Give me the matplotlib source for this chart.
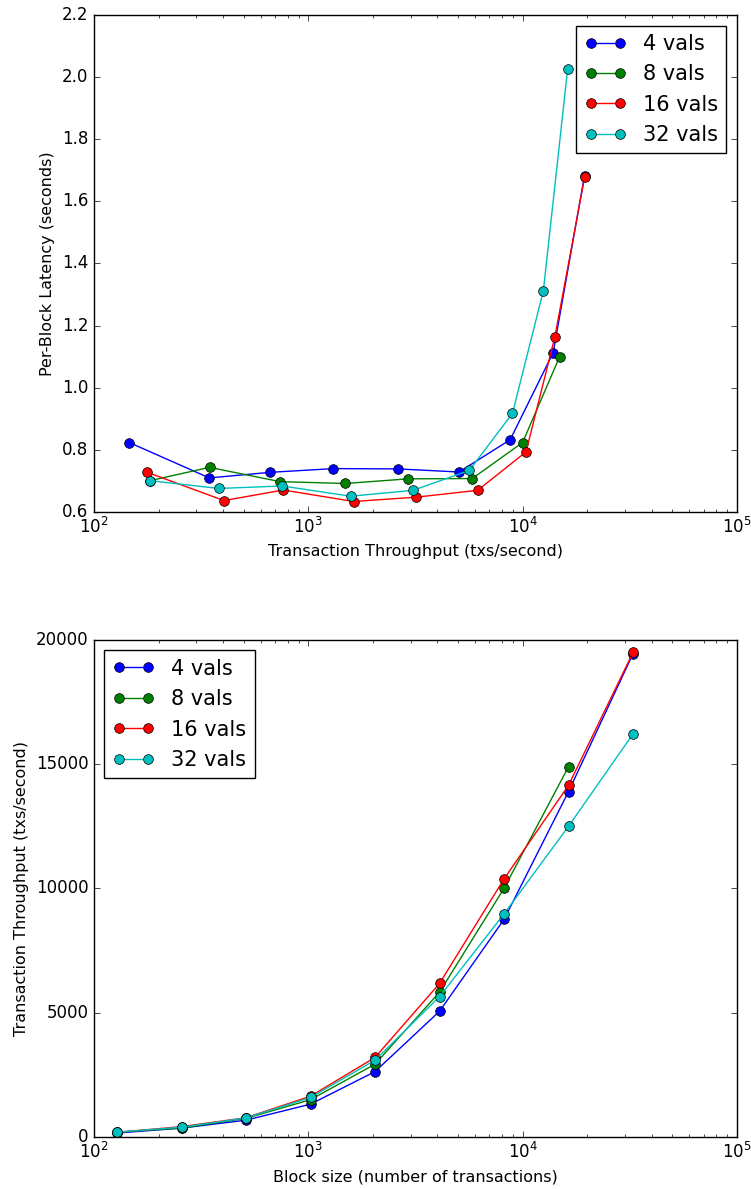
import matplotlib
matplotlib.use("Agg")
import matplotlib.pyplot as plt

# block sizes (number of transactions)
block_sizes = [128, 256, 512, 1024, 2048, 4096, 8192, 16384, 32768]
labels = ["4 vals", "8 vals", "16 vals", "32 vals"]
colors = ["b", "g", "r", "c"]

# throughput (txs/second) per validator count
tput_4 = [146, 345, 665, 1310, 2620, 5050, 8750, 13900, 19450]
tput_8 = [182, 346, 738, 1490, 2920, 5820, 10000, 14900]
tput_16 = [177, 404, 764, 1630, 3190, 6170, 10380, 14150, 19500]
tput_32 = [183, 382, 756, 1578, 3080, 5640, 8970, 12500, 16220]

# per-block latency (seconds)
lat_4 = [0.823, 0.709, 0.727, 0.739, 0.738, 0.728, 0.832, 1.113, 1.683]
lat_8 = [0.700, 0.743, 0.697, 0.691, 0.706, 0.707, 0.823, 1.100]
lat_16 = [0.727, 0.636, 0.670, 0.633, 0.647, 0.669, 0.793, 1.164, 1.680]
lat_32 = [0.700, 0.675, 0.683, 0.650, 0.669, 0.733, 0.917, 1.312, 2.025]

tputs = [tput_4, tput_8, tput_16, tput_32]
lats = [lat_4, lat_8, lat_16, lat_32]

plt.style.use("classic")
fig = plt.figure(figsize=(7.51, 11.89), dpi=100)

# latency vs throughput
ax1 = fig.add_axes([0.1252, 0.5696, 0.856, 0.4177])
for t, l, c, lab in zip(tputs, lats, colors, labels):
    ax1.plot(t, l, c + "-o", label=lab, markersize=7)
ax1.set_xscale("log")
ax1.set_xlim(1e2, 1e5)
ax1.set_ylim(0.6, 2.2)
ax1.set_xlabel("Transaction Throughput (txs/second)", fontsize=11.5)
ax1.set_ylabel("Per-Block Latency (seconds)", fontsize=11.5)
ax1.tick_params(labelsize=12)
ax1.legend(loc="upper right", fontsize=15)

# throughput vs block size
ax2 = fig.add_axes([0.1252, 0.044, 0.856, 0.4177])
for t, c, lab in zip(tputs, colors, labels):
    ax2.plot(block_sizes[:len(t)], t, c + "-o", label=lab, markersize=7)
ax2.set_xscale("log")
ax2.set_xlim(1e2, 1e5)
ax2.set_ylim(0, 20000)
ax2.set_yticks([0, 5000, 10000, 15000, 20000])
ax2.set_xlabel("Block size (number of transactions)", fontsize=11.5)
ax2.set_ylabel("Transaction Throughput (txs/second)", fontsize=11.5)
ax2.tick_params(labelsize=12)
ax2.legend(loc="upper left", fontsize=15)

fig.savefig("out.png", dpi=100)
